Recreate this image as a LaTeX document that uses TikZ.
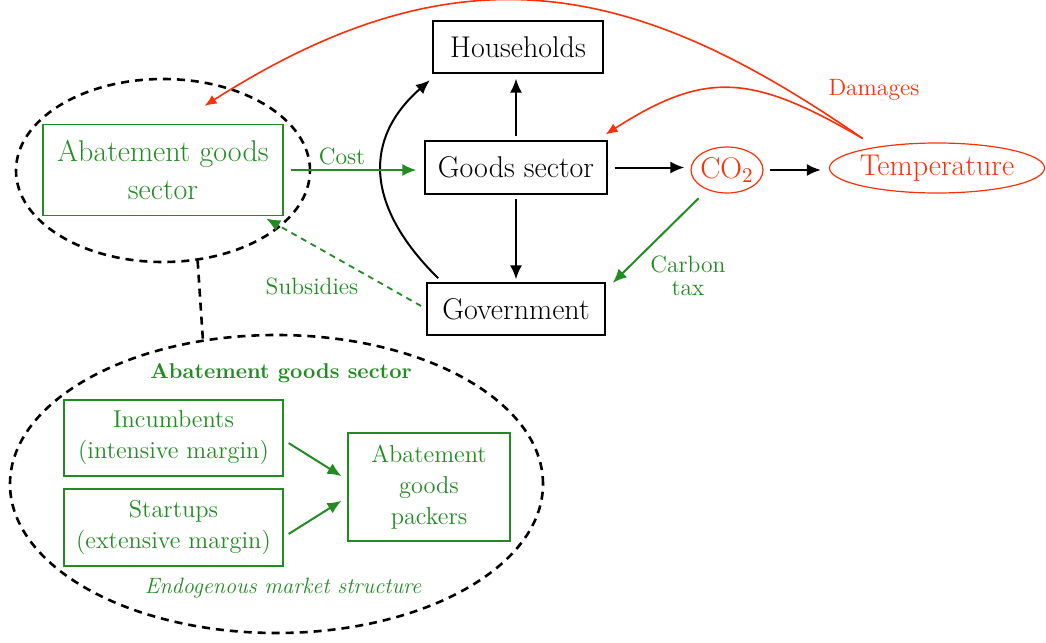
\documentclass[tikz,border=0pt]{standalone}
\usetikzlibrary{arrows.meta,shapes.geometric}
\definecolor{agreen}{RGB}{34,139,34}
\definecolor{ared}{RGB}{252,48,8}
\newcommand\fbig{\fontsize{15}{19}\selectfont}
\newcommand\fmid{\fontsize{12.2}{15.5}\selectfont}
\newcommand\flab{\fontsize{11.8}{11.5}\selectfont}
\begin{document}
\begin{tikzpicture}[x=0.5pt,y=-0.5pt,
  tipb/.style={-{Latex[length=7pt,width=6pt]}},
  tipr/.style={-{Latex[length=6pt,width=5pt]}},
  blkbox/.style={draw, line width=0.6pt, inner sep=0pt, font=\fbig, align=center},
  grnbox/.style={draw=agreen, text=agreen, line width=0.6pt, inner sep=0pt, align=center},
  redell/.style={ellipse, draw=ared, text=ared, line width=0.6pt, inner sep=0pt, font=\fbig},
  dashell/.style={ellipse, draw, line width=1.3pt, dash pattern=on 4pt off 3pt, inner sep=0pt},
  blkarrow/.style={tipb, line width=1pt},
  garrow/.style={tipb, draw=agreen, line width=1pt},
  gdash/.style={tipb, draw=agreen, line width=0.9pt, dash pattern=on 3pt off 2.5pt},
  rarrow/.style={tipr, draw=ared, line width=0.8pt},
  glab/.style={text=agreen, font=\flab, inner sep=0pt, align=center},
  rlab/.style={text=ared, font=\flab, inner sep=0pt}
]
\useasboundingbox (0,0) rectangle (1046,643);

% upper nodes
\node[blkbox, minimum width=85pt, minimum height=26pt] (hh) at (518,47) {Households};
\node[blkbox, minimum width=91pt, minimum height=26.5pt] (goods) at (516,167.5) {Goods sector};
\node[blkbox, minimum width=89pt, minimum height=26pt] (gov) at (516,309) {Government};
\node[redell, minimum width=36pt, minimum height=23pt] (co2) at (727,170) {\makebox[0pt]{CO\textsubscript{2}}};
\node[redell, minimum width=107.5pt, minimum height=25pt] (temp) at (937,168) {\makebox[0pt]{Temperature}};
\node[grnbox, font=\fbig, minimum width=120pt, minimum height=45.5pt] (abate) at (163,170) {Abatement goods\\sector};
\node[dashell, minimum width=147pt, minimum height=91.5pt] (upell) at (163,170.5) {};

% lower nodes
\node[dashell, minimum width=266.5pt, minimum height=149pt] (lowell) at (276.5,484) {};
\node[text=agreen, font=\fontsize{10.7}{13}\selectfont\bfseries, inner sep=0pt] (ttl) at (281,373) {Abatement goods sector};
\node[grnbox, font=\fmid, minimum width=109.5pt, minimum height=38pt] (inc) at (173.5,438) {Incumbents\\(intensive margin)};
\node[grnbox, font=\fmid, minimum width=109.5pt, minimum height=38.5pt] (st) at (173.5,527.5) {Startups\\(extensive margin)};
\node[grnbox, font=\fmid, minimum width=81pt, minimum height=54pt] (pack) at (429,487) {Abatement\\goods\\packers};
\node[text=agreen, font=\fontsize{11.1}{13}\selectfont\itshape, inner sep=0pt] (ems) at (283,588) {Endogenous market structure};

% labels
\node[glab] (costl) at (342,156) {Cost};
\node[glab] (subl) at (312,286) {Subsidies};
\node[glab] (ctl) at (688,276) {Carbon\\tax};
\node[rlab] (daml) at (874,90) {Damages};

% black connectors
\draw[blkarrow, shorten <=2pt, shorten >=2.5pt] (goods.north) -- (goods.north |- hh.south);
\draw[blkarrow, shorten <=2pt, shorten >=1.5pt] (goods.south) -- (gov.north);
\draw[blkarrow, shorten <=3.5pt, shorten >=3pt] (goods.east) -- (goods.east -| co2.west);
\draw[blkarrow, shorten <=3pt, shorten >=4pt] (co2.east) -- (co2.east -| temp.west);
\draw[blkarrow, shorten <=3pt, shorten >=5pt] ([xshift=8pt]gov.north west) .. controls (364,205) and (364,138) .. ([xshift=2.5pt]hh.south west);

% green connectors
\draw[garrow, shorten <=3.5pt, shorten >=4pt] (abate.east) -- (abate.east -| goods.west);
\draw[gdash, shorten <=3pt, shorten >=2.5pt] (gov.west) -- (abate.-25);
\draw[garrow, shorten <=6pt, shorten >=5pt] (co2.-135) -- (gov.12);
\draw[garrow, shorten <=3pt, shorten >=3.5pt] (inc.-1) -- (pack.175);
\draw[garrow, shorten <=3pt, shorten >=3.5pt] (st.-5) -- (pack.-173);

% dashed link between ellipses
\draw[line width=1.3pt, dash pattern=on 4pt off 3pt] (upell.-69) -- (lowell.117);

% red curves
\draw[rarrow] ([yshift=5.5pt]temp.166) .. controls (642,-14) and (466,-61) .. ([yshift=9pt]abate.48);
\draw[rarrow] ([yshift=5.5pt]temp.166) .. controls (752,74) and (706,70) .. ([xshift=-1pt,yshift=3pt]goods.north east);
\end{tikzpicture}
\end{document}
